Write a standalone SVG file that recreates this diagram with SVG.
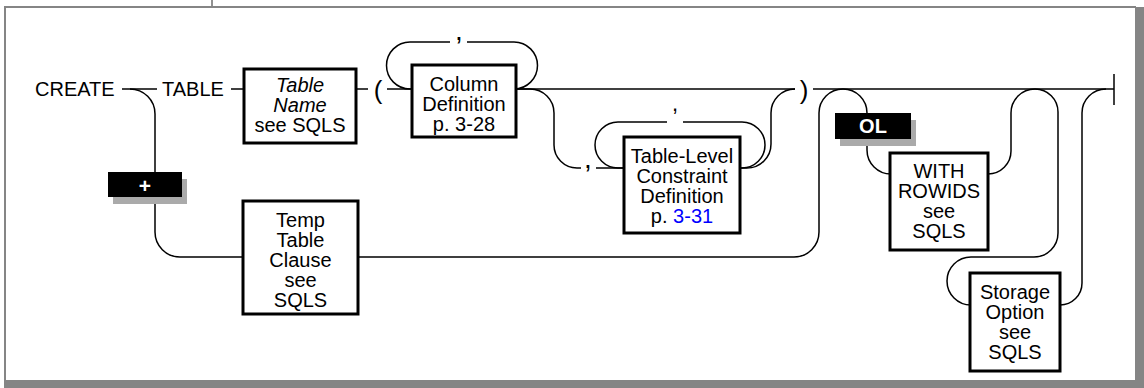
<svg xmlns="http://www.w3.org/2000/svg" width="1144" height="388" viewBox="0 0 1144 388">
  <style>
    .conn { fill: none; stroke: #000; stroke-width: 1.5; }
    .box { fill: #fff; stroke: #000; stroke-width: 3; }
    .txt { font-family: "Liberation Sans", Arial, Helvetica, sans-serif; font-size: 20px; fill: #000; }
    .mid { text-anchor: middle; }
    .it { font-style: italic; }
    .link { fill: #0000ff; }
    .punct { font-family: "Liberation Sans", Arial, Helvetica, sans-serif; fill: #000; text-anchor: middle; }
    .badge { fill: #000; }
    .badge-shadow { fill: #aaaaaa; }
    .badge-txt { font-family: "Liberation Sans", Arial, Helvetica, sans-serif; font-weight: bold; fill: #fff; text-anchor: middle; }
    .frame { fill: #858585; }
  </style>

  <!-- page frame with drop shadow -->
  <g id="frame">
    <rect x="0" y="0" width="1144" height="388" fill="#fff"/>
    <line x1="212" y1="0" x2="212" y2="6" stroke="#222" stroke-width="1"/>
    <rect class="frame" x="4" y="6" width="1132" height="2"/>
    <rect class="frame" x="4" y="6" width="2" height="376"/>
    <rect class="frame" x="1135" y="7" width="9" height="381"/>
    <rect class="frame" x="4" y="380" width="1140" height="8"/>
  </g>

  <!-- railroad tracks -->
  <g id="connectors">
    <path class="conn" d="M122,89 H157"/>
    <path class="conn" d="M231,89 H244"/>
    <path class="conn" d="M356,89 H368"/>
    <path class="conn" d="M387,89 H412"/>
    <path class="conn" d="M516,89 H795"/>
    <path class="conn" d="M813,89 H1114"/>
    <path class="conn" d="M1114,74 V105" stroke-width="2"/>

    <!-- temp table branch -->
    <path class="conn" d="M130,89 A25,25 0 0 1 155,114 V232 A25,25 0 0 0 180,257 H243"/>
    <path class="conn" d="M358,257 H794 A25,25 0 0 0 819,232 V113 A24,24 0 0 1 843,89"/>

    <!-- column definition repeat loop -->
    <path class="conn" d="M412,89 H410 A23.5,23.5 0 0 1 410,42 H450 M467,42 H514 A23.5,23.5 0 0 1 514,89 H516"/>

    <!-- table-level constraint branch -->
    <path class="conn" d="M516,89 H530 A24,24 0 0 1 554,113 V145 A23,23 0 0 0 577,168 H581 M596,168 H624"/>
    <path class="conn" d="M624,168 H618 A23,23 0 0 1 618,122 H667 M683,122 H742 A23,23 0 0 1 742,168 H740"/>
    <path class="conn" d="M740,168 H747 A24,24 0 0 0 771,144 V113 A24,24 0 0 1 795,89"/>

    <!-- WITH ROWIDS branch -->
    <path class="conn" d="M843,89 A24,24 0 0 1 867,113 V150 A24,24 0 0 0 891,174"/>
    <path class="conn" d="M988,174 A23,23 0 0 0 1011,151 V113 A24,24 0 0 1 1035,89"/>

    <!-- storage option branch -->
    <path class="conn" d="M1035,89 A23,23 0 0 1 1058,112 V233 A24,24 0 0 1 1034,257 H971 A24,24 0 0 0 947,281 A24,24 0 0 0 971,305"/>
    <path class="conn" d="M1060,305 A22,22 0 0 0 1082,283 V113 A24,24 0 0 1 1106,89"/>

    <!-- separators on the tracks -->
    <text class="punct" x="459" y="40" font-size="28">,</text>
    <text class="punct" x="588" y="168" font-size="28">,</text>
    <text class="punct" x="675" y="111" font-size="22">,</text>
    <text class="punct" x="378" y="99" font-size="26">(</text>
    <text class="punct" x="804" y="99" font-size="26">)</text>
  </g>

  <g id="kw-create">
    <text class="txt" x="35" y="96">CREATE</text>
  </g>
  <g id="kw-table">
    <text class="txt" x="162" y="96">TABLE</text>
  </g>

  <g id="table-name">
    <rect class="box" x="244" y="69" width="112" height="74"/>
    <text class="txt mid it" x="300" y="92">Table</text>
    <text class="txt mid it" x="300" y="112">Name</text>
    <text class="txt mid" x="300" y="132">see SQLS</text>
  </g>

  <g id="column-definition">
    <rect class="box" x="412" y="65" width="104" height="72"/>
    <text class="txt mid" x="464" y="91">Column</text>
    <text class="txt mid" x="464" y="111">Definition</text>
    <text class="txt mid" x="464" y="131">p. 3-28</text>
  </g>

  <g id="table-level-constraint">
    <rect class="box" x="624" y="137" width="116" height="96"/>
    <text class="txt mid" x="682" y="163">Table-Level</text>
    <text class="txt mid" x="682" y="183">Constraint</text>
    <text class="txt mid" x="682" y="203">Definition</text>
    <text class="txt mid" x="682" y="223">p. <tspan class="link">3-31</tspan></text>
  </g>

  <g id="temp-table-clause">
    <rect class="box" x="243" y="201" width="115" height="113"/>
    <text class="txt mid" x="300.5" y="227">Temp</text>
    <text class="txt mid" x="300.5" y="247">Table</text>
    <text class="txt mid" x="300.5" y="267">Clause</text>
    <text class="txt mid" x="300.5" y="287">see</text>
    <text class="txt mid" x="300.5" y="307">SQLS</text>
  </g>

  <g id="with-rowids">
    <rect class="box" x="890" y="153" width="98" height="97"/>
    <text class="txt mid" x="939" y="178">WITH</text>
    <text class="txt mid" x="939" y="198">ROWIDS</text>
    <text class="txt mid" x="939" y="218">see</text>
    <text class="txt mid" x="939" y="238">SQLS</text>
  </g>

  <g id="storage-option">
    <rect class="box" x="970" y="273" width="90" height="98"/>
    <text class="txt mid" x="1015" y="299">Storage</text>
    <text class="txt mid" x="1015" y="319">Option</text>
    <text class="txt mid" x="1015" y="339">see</text>
    <text class="txt mid" x="1015" y="359">SQLS</text>
  </g>

  <g id="badge-plus">
    <rect class="badge-shadow" x="113" y="179" width="74" height="25"/>
    <rect class="badge" x="108" y="172" width="74" height="25"/>
    <text class="badge-txt" x="145" y="193" font-size="21">+</text>
  </g>

  <g id="badge-ol">
    <rect class="badge-shadow" x="840" y="120" width="76" height="26"/>
    <rect class="badge" x="835" y="113" width="76" height="26"/>
    <text class="badge-txt" x="873" y="133" font-size="20">OL</text>
  </g>
</svg>
